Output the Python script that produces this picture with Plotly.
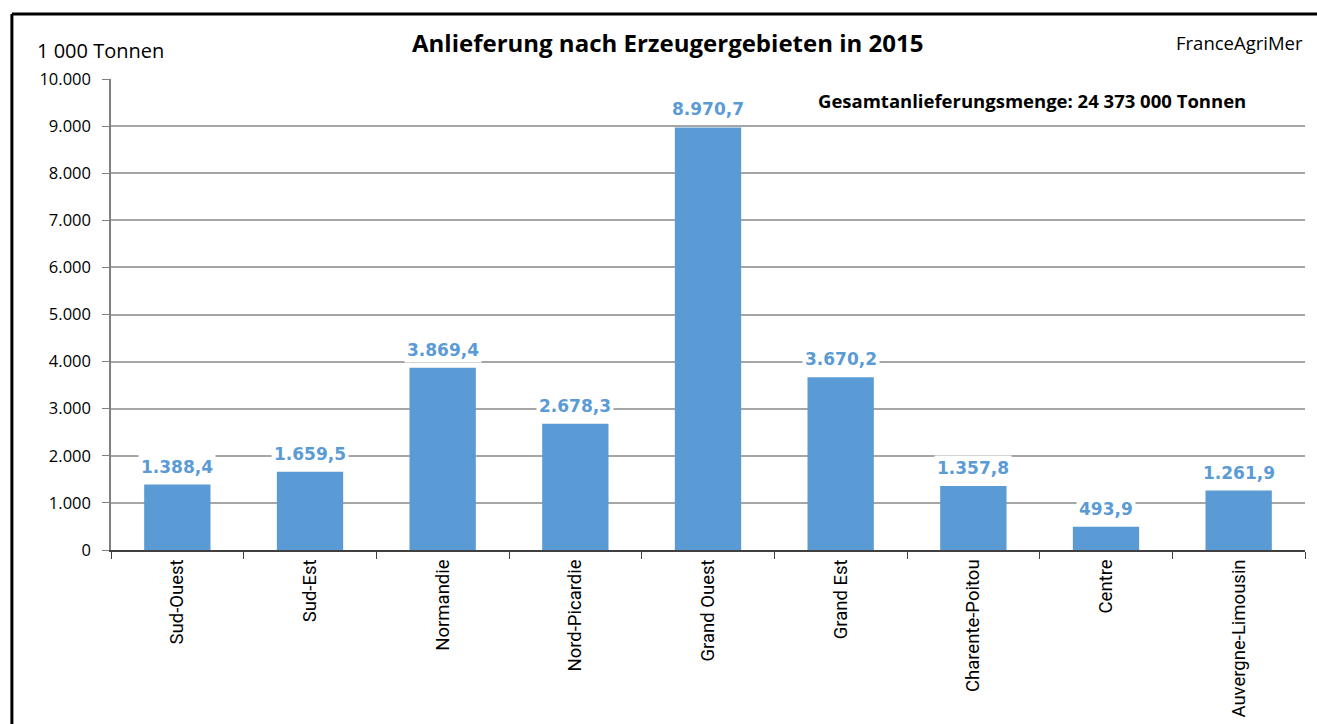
import plotly.graph_objects as go

# regions and delivered quantities (1 000 t), 2015
regions = ['Sud-Ouest', 'Sud-Est', 'Normandie', 'Nord-Picardie', 'Grand Ouest',
           'Grand Est', 'Charente-Poitou', 'Centre', 'Auvergne-Limousin']
tonnes = [1388.4, 1659.5, 3869.4, 2678.3, 8970.7, 3670.2, 1357.8, 493.9, 1261.9]
y_ticks = [0, 1000, 2000, 3000, 4000, 5000, 6000, 7000, 8000, 9000, 10000]

bar_color = '#5b9bd5'
grid_color = '#a6a6a6'


def de_num(v):
    # german style: 1.388,4
    return f'{v:,.1f}'.replace(',', 'X').replace('.', ',').replace('X', '.')


fig = go.Figure()
fig.add_trace(go.Bar(x=regions, y=tonnes, marker=dict(color=bar_color, line=dict(width=0)),
                     hoverinfo='x+y'))

# value labels with white box over the gridlines
for reg, val in zip(regions, tonnes):
    fig.add_annotation(x=reg, y=val, text='<b>%s</b>' % de_num(val),
                       showarrow=False, yanchor='bottom', yshift=5, bgcolor='white', borderpad=2,
                       font=dict(family='DejaVu Sans', size=17, color=bar_color))

fig.update_layout(
    width=1317, height=724,
    margin=dict(l=111, r=12, t=79, b=174, autoexpand=False),
    paper_bgcolor='white', plot_bgcolor='white',
    separators=',.',
    bargap=0.5,
    showlegend=False,
    xaxis=dict(tickson='boundaries', ticks='outside', ticklen=7, tickcolor='#404040',
               showline=True, linecolor='#404040', linewidth=2, tickangle=-90, automargin=False,
               tickfont=dict(family='Liberation Sans Narrow, Roboto, Arial', size=18.5, color='black')),
    yaxis=dict(range=[0, 10000], tickvals=y_ticks, tickformat=',d', ticks='outside', ticklen=7,
               tickcolor='#808080', showline=True, linecolor='#808080', linewidth=1.5,
               showgrid=True, gridcolor=grid_color, gridwidth=2, zeroline=False, automargin=False,
               ticklabelstandoff=8,
               tickfont=dict(family='Open Sans', size=16.5, color='black')),
)

# title and side texts
fig.add_annotation(xref='paper', yref='paper', x=0.466, y=1.077, yanchor='middle', showarrow=False,
                   text='<b>Anlieferung nach Erzeugergebieten in 2015</b>',
                   font=dict(family='Open Sans', size=24, color='black'))
fig.add_annotation(xref='paper', yref='paper', x=-0.064, y=1.06, xanchor='left', yanchor='middle',
                   showarrow=False, text='1 000 Tonnen',
                   font=dict(family='Open Sans', size=20, color='black'))
fig.add_annotation(xref='paper', yref='paper', x=1.0, y=1.077, xanchor='right', yanchor='middle',
                   showarrow=False, text='FranceAgriMer',
                   font=dict(family='Open Sans', size=18.5, color='black'))
fig.add_annotation(xref='paper', yref='paper', x=0.952, y=0.955, xanchor='right', yanchor='middle',
                   showarrow=False, text='<b>Gesamtanlieferungsmenge: 24 373 000 Tonnen</b>',
                   font=dict(family='Open Sans', size=18.5, color='black'))

# outer frame (top and left edges visible)
fig.add_shape(type='line', xref='paper', yref='paper', x0=-0.083, x1=1.02, y0=1.138, y1=1.138,
              line=dict(color='black', width=3))
fig.add_shape(type='line', xref='paper', yref='paper', x0=-0.083, x1=-0.083, y0=1.138, y1=-0.4,
              line=dict(color='black', width=3))

fig.write_html('out.html', config={'displayModeBar': False},
               post_script="document.body.style.margin='0';document.body.style.overflow='hidden';")
